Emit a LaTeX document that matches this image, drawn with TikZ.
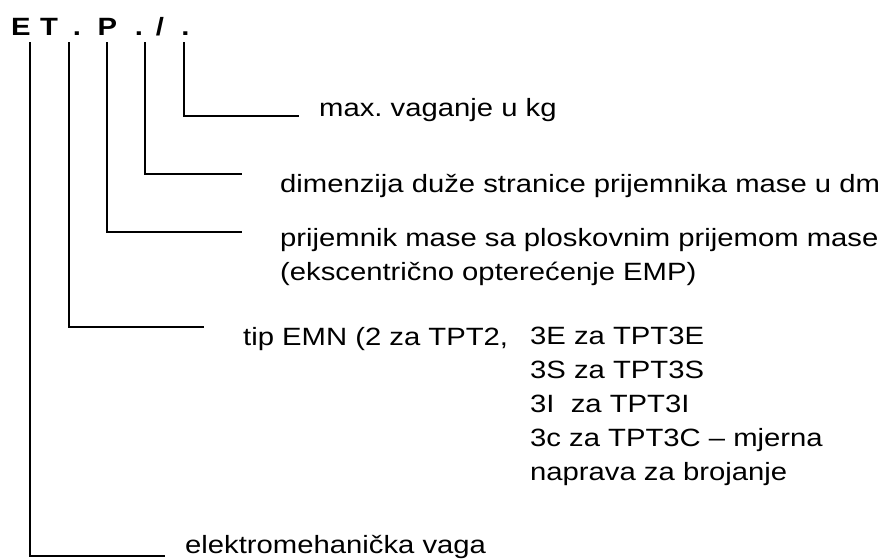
\documentclass[tikz,border=0pt]{standalone}
\usepackage{fontspec}
\setmainfont[FakeStretch=1.17]{Liberation Sans}
\usetikzlibrary{positioning}

\tikzset{
  code/.style={anchor=base,inner sep=0pt,font=\fontsize{25}{30}\selectfont\bfseries},
  lbl/.style={anchor=base west,inner sep=0pt,align=left,font=\fontsize{25}{34}\selectfont},
  lead/.style={line width=1.3pt}
}

\begin{document}
\frenchspacing
\begin{tikzpicture}[x=1pt,y=-1pt]
\useasboundingbox (0,0) rectangle (884,558);

% the code
\node[code] (cE) at (21,35) {E};
\node[code] (cT) at (49,35) {T};
\node[code] (cd1) at (77,35) {.};
\node[code] (cP) at (107.5,35) {P};
\node[code] (cd2) at (139,35) {.};
\node[code] (cs) at (160,35) {/};
\node[code] (cd3) at (185.5,35) {.};

% tops of the leaders
\coordinate (t1) at (30,42);
\coordinate (t2) at (69,42);
\coordinate (t3) at (107,42);
\coordinate (t4) at (145,42);
\coordinate (t5) at (184,42);

% ends of the leaders
\coordinate (e1) at (165,556);
\coordinate (e2) at (204,327);
\coordinate (e3) at (242,232);
\coordinate (e4) at (242,174);
\coordinate (e5) at (299,116);

% base of a many-line node is its last line
\node[lbl] (m5) at (319,116) {max. vaganje u kg};
\node[lbl] (m4) at (280,192) {dimenzija duže stranice prijemnika mase u dm};
\node[lbl] (m3) at (280,280) {prijemnik mase sa ploskovnim prijemom mase\\(ekscentrično opterećenje EMP)};
\node[lbl] (m2) at (243,345) {tip EMN (2 za TPT2,};
\node[lbl,font=\fontsize{25}{33.8}\selectfont] (m2b) at (530,480) {3E za TPT3E\\3S za TPT3S\\3I\ \ za TPT3I\\3c za TPT3C – mjerna\\naprava za brojanje};
\node[lbl] (m1) at (185,553) {elektromehanička vaga};

\draw[lead] (t1) |- (e1);
\draw[lead] (t2) |- (e2);
\draw[lead] (t3) |- (e3);
\draw[lead] (t4) |- (e4);
\draw[lead] (t5) |- (e5);
\end{tikzpicture}
\end{document}
